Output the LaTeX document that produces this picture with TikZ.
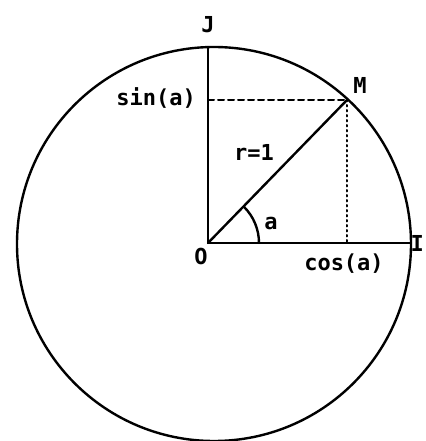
\documentclass[tikz,border=0pt]{standalone}
\usepackage{fontspec}
\setmainfont{DejaVu Sans Mono}
\begin{document}
\begin{tikzpicture}[>=stealth,line join=round,line cap=round,x=1pt,y=1pt,
	font=\bfseries\fontsize{22}{22}\selectfont,line width=2.4pt]
	%========================
	\useasboundingbox (-208,-198) rectangle (217,243);
	\coordinate (O) at (0,0);
	\coordinate (C) at (6,-1);
	\coordinate (J) at (0,196);
	\coordinate (I) at (203,0);
	\coordinate (M) at (139,143);
	\coordinate (S) at (0,143);
	\coordinate (K) at (139,0);
	\draw (C) circle (197);
	\draw (O)--(J);
	\draw (O)--(I);
	\draw (O)--(M);
	\draw[line width=2pt,dash pattern=on 6pt off 4pt] (S)--(M);
	\draw[line width=2pt,dash pattern=on 1.5pt off 3.5pt] (M)--(K);
	\draw (51,0) arc (0:45:51);
	\node (lJ) at (0,218) {J};
	\node (lM) at (152,158) {M};
	\node[left,inner xsep=1pt] (lS) at (-10,145) {sin(a)};
	\node (lr) at (46,91) {r=1};
	\node (la) at (63,20) {a};
	\node (lO) at (-7,-13) {O};
	\node (lC) at (136,-21) {cos(a)};
	\node[left,inner xsep=0pt] (lI) at (217,0) {I};
	%========================
\end{tikzpicture}
\end{document}
